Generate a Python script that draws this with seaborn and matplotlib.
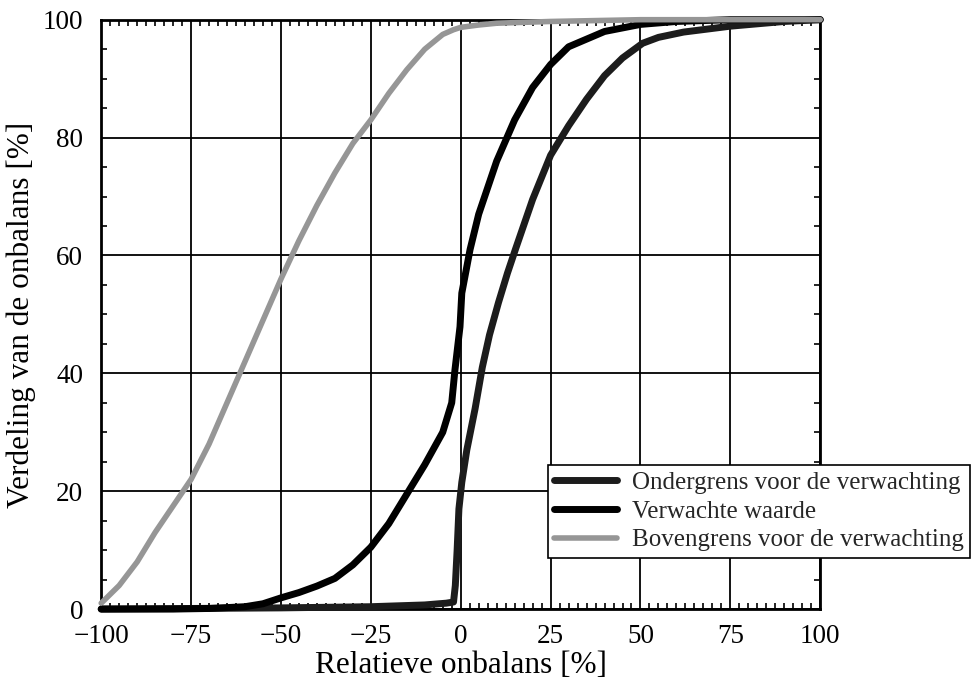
import numpy as np
import pandas as pd
import matplotlib
matplotlib.use("Agg")
import matplotlib.pyplot as plt
import seaborn as sns
from matplotlib.ticker import MultipleLocator

# ---- data ----
x_onder = [-100, -75, -50, -25, -10, -4, -2, -1.5, -1, -0.5, 0.3, 1.7, 4, 6, 8, 10.5, 13, 15.2,
           20, 25, 30, 35, 40, 45, 50.6, 55, 62, 75, 90, 100]
y_onder = [0, 0.1, 0.2, 0.4, 0.7, 1.0, 1.2, 4, 10, 17, 21.5, 27, 34, 41, 46.5, 52, 57, 61,
           69.5, 77, 82, 86.5, 90.5, 93.5, 96, 97, 97.9, 98.9, 99.7, 100]

x_verw = [-100, -80, -70, -60, -55, -50, -45, -40, -35, -30, -25, -20, -15, -10, -5, -2.5,
          -1.6, -0.2, 0.3, 2.6, 5, 10, 15, 20, 25, 30, 40, 50, 60, 75, 100]
y_verw = [0, 0, 0.1, 0.4, 0.9, 1.9, 2.8, 3.9, 5.2, 7.5, 10.5, 14.5, 19.5, 24.5, 30, 35,
          40.6, 47.9, 53.6, 61, 67, 76, 83, 88.5, 92.4, 95.4, 98, 99.2, 99.7, 100, 100]

x_boven = [-100, -95, -90, -85, -80, -75, -70, -65, -60, -55, -50, -45, -40, -35, -30, -25,
           -20, -15, -10, -5, -2, 0, 5, 10, 25, 50, 75, 100]
y_boven = [1, 4, 8, 13, 17.5, 22, 28, 35, 42, 49, 56, 62.5, 68.5, 74, 79, 83,
           87.5, 91.5, 95, 97.5, 98.3, 98.7, 99.1, 99.4, 99.7, 100, 100, 100]

labels = ["Ondergrens voor de verwachting", "Verwachte waarde", "Bovengrens voor de verwachting"]
x_ticks = [-100, -75, -50, -25, 0, 25, 50, 75, 100]
y_ticks = [0, 20, 40, 60, 80, 100]

# ---- figure ----
sns.set_theme(style="white")
plt.rcParams["font.family"] = ["Liberation Serif", "DejaVu Serif"]

fig = plt.figure(figsize=(9.73, 6.79), dpi=100)
ax = fig.add_axes([0.104, 0.103, 0.739, 0.868])

series = [
    (x_onder, y_onder, labels[0], "#1c1c1c", 5.0),
    (x_verw, y_verw, labels[1], "#000000", 5.0),
    (x_boven, y_boven, labels[2], "#969696", 4.0),
]
for xs, ys, lab, col, lw in series:
    df = pd.DataFrame({"x": xs, "y": ys})
    sns.lineplot(data=df, x="x", y="y", ax=ax, color=col, linewidth=lw, label=lab,
                 estimator=None, sort=False, clip_on=False, zorder=3,
                 solid_capstyle="round", solid_joinstyle="round")

ax.set_xlim(-100, 100)
ax.set_ylim(0, 100)
ax.set_xticks(x_ticks)
ax.set_yticks(y_ticks)
ax.xaxis.set_minor_locator(MultipleLocator(2.5))
ax.yaxis.set_minor_locator(MultipleLocator(5))
ax.grid(True, which="major", color="black", linewidth=1.3)
ax.set_axisbelow(True)
ax.tick_params(which="major", length=0, labelsize=19.5, colors="black")
ax.tick_params(axis="x", which="major", pad=11)
ax.tick_params(axis="y", which="major", pad=13)
ax.tick_params(which="minor", direction="in", length=4, width=1.2, color="black",
               top=True, bottom=True, left=True, right=True)
for s in ax.spines.values():
    s.set_visible(True)
    s.set_color("black")
    s.set_linewidth(2)

ax.set_xlabel("Relatieve onbalans [%]", fontsize=22.5, color="black", labelpad=1)
ax.set_ylabel("Verdeling van de onbalans [%]", fontsize=22.5, color="black", labelpad=5)

handles, labs = ax.get_legend_handles_labels()
ax.get_legend().remove()
leg = fig.legend(handles, labs, loc="upper left", bbox_to_anchor=(0.563, 0.315),
                 bbox_transform=fig.transFigure, fontsize=18, frameon=True,
                 fancybox=False, edgecolor="black", handlelength=2.5,
                 handletextpad=0.6, borderpad=0.25, labelspacing=0.25, borderaxespad=0)
leg.get_frame().set_linewidth(1.2)
leg.get_frame().set_alpha(1)

fig.savefig("out.png", dpi=100, facecolor="white")
